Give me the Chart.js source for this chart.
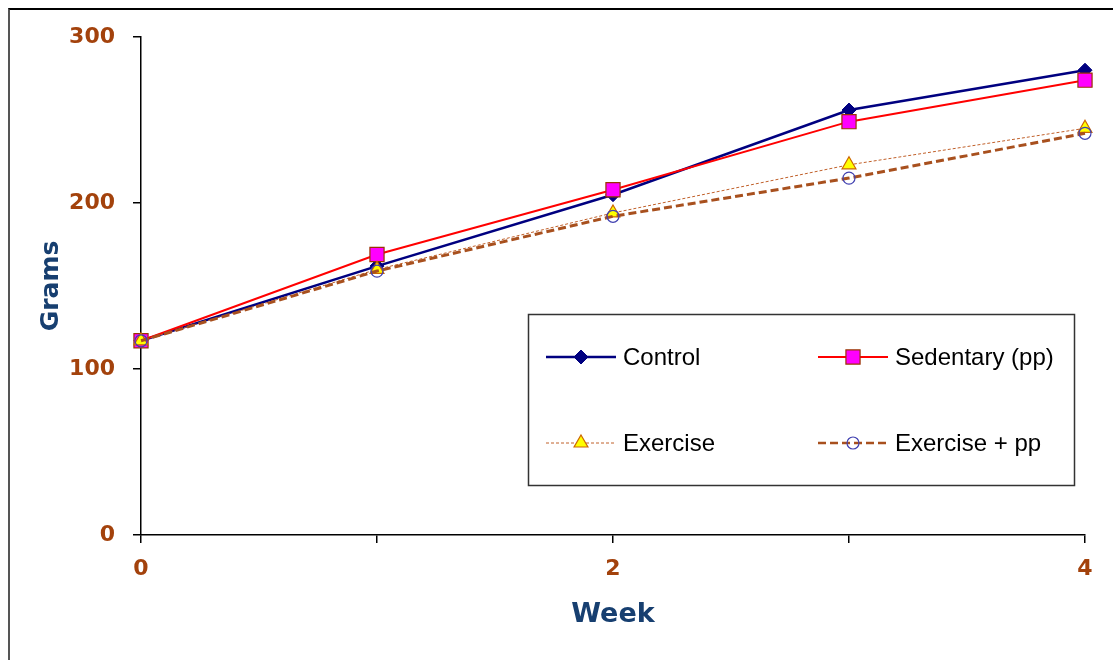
<!DOCTYPE html>
<html lang="en">
    <head>
        <meta charset="utf-8" />
        <script src="https://cdn.jsdelivr.net/npm/chart.js@4.4.1/dist/chart.umd.min.js"></script>
        <title>Grams by week</title>
        <style>
            body { margin: 0; background: #fff; }
            #marco { position: absolute; left: 8px; top: 8px; width: 1105px; height: 652px;
                     border-left: 2px solid #555; border-top: 2px solid #000; box-sizing: border-box; }
            #grafico { position: absolute; left: 0; top: 0; }
        </style>
    </head>
    <body>
        <div id="marco"></div>
        <canvas id="grafico" width="1113" height="660"></canvas>
        <script>
            // datos
            const semanas = [0, 1, 2, 3, 4];
            const control = [117, 162, 205, 256, 280];
            const sedentario = [117, 169, 208, 249, 274];
            const ejercicio = [117, 160, 194, 223, 245];
            const ejercicioPp = [117, 159, 192, 215, 242];
            const nombres = ["Control", "Sedentary (pp)", "Exercise", "Exercise + pp"];
            const ticksY = [0, 100, 200, 300];

            const marron = "#A3420C";
            const azulTitulo = "#173F70";

            const puntos = arr => arr.map((v, i) => ({ x: semanas[i], y: v }));

            // como en Excel, la ultima serie queda encima
            const series = [
                { label: nombres[0], data: puntos(control), borderColor: "#000080", borderWidth: 2.5, clip: false,
                  pointStyle: "rectRot", pointRadius: 7, pointBackgroundColor: "#000080", pointBorderColor: "#000080", pointBorderWidth: 1, order: 3 },
                { label: nombres[1], data: puntos(sedentario), borderColor: "#FF0000", borderWidth: 2, clip: false,
                  pointStyle: "rect", pointRadius: 10, pointBackgroundColor: "#FF00FF", pointBorderColor: "#993300", pointBorderWidth: 1.2, order: 2 },
                { label: nombres[2], data: puntos(ejercicio), borderColor: "#C0602A", borderWidth: 1, borderDash: [3, 2], clip: false,
                  pointStyle: "triangle", pointRadius: 8, pointBackgroundColor: "#FFFF00", pointBorderColor: "#CC6600", pointBorderWidth: 1.2, order: 1 },
                { label: nombres[3], data: puntos(ejercicioPp), borderColor: "#A8501E", borderWidth: 3, borderDash: [8, 4], clip: false,
                  pointStyle: "circle", pointRadius: 6, pointBackgroundColor: "rgba(255,255,255,0)", pointBorderColor: "#4040B0", pointBorderWidth: 1.2, order: 0 }
            ];

            // leyenda dibujada dentro del area, como en el original
            const leyenda = {
                id: "leyendaCaja",
                afterDraw(chart) {
                    const ctx = chart.ctx;
                    ctx.save();
                    ctx.strokeStyle = "#333";
                    ctx.lineWidth = 1.5;
                    ctx.strokeRect(528.5, 314.5, 546, 171);
                    const pos = [[546, 357], [818, 357], [546, 443], [818, 443]];
                    series.forEach((s, i) => {
                        const [x, y] = pos[i];
                        ctx.save();
                        ctx.strokeStyle = s.borderColor;
                        ctx.lineWidth = Math.min(s.borderWidth, 2.5);
                        ctx.setLineDash(s.borderDash || []);
                        ctx.beginPath();
                        ctx.moveTo(x, y);
                        ctx.lineTo(x + 70, y);
                        ctx.stroke();
                        ctx.restore();
                        ctx.fillStyle = s.pointBackgroundColor;
                        ctx.strokeStyle = s.pointBorderColor;
                        ctx.lineWidth = s.pointBorderWidth;
                        Chart.helpers.drawPoint(ctx, { pointStyle: s.pointStyle, radius: s.pointRadius, rotation: 0, borderWidth: s.pointBorderWidth }, x + 35, y);
                        ctx.fillStyle = "#000";
                        ctx.font = "24px 'Liberation Sans', Arial, sans-serif";
                        ctx.textBaseline = "middle";
                        ctx.fillText(s.label, x + 77, y + 1);
                    });
                    ctx.restore();
                }
            };

            new Chart(document.getElementById("grafico").getContext("2d"), {
                type: "line",
                data: { datasets: series },
                options: {
                    responsive: false,
                    animation: false,
                    layout: { padding: { left: 30, right: 28, top: 37, bottom: 25 } },
                    plugins: { legend: { display: false }, tooltip: { enabled: false } },
                    scales: {
                        x: {
                            type: "linear", min: 0, max: 4,
                            afterFit: s => { s.height = 100; },
                            border: { color: "#000", width: 1.5 },
                            grid: { drawOnChartArea: false, color: "#000", lineWidth: 1.5, tickLength: 8 },
                            ticks: { stepSize: 1, padding: 13, color: marron,
                                     font: { family: "'DejaVu Sans'", size: 22, weight: "bold" },
                                     callback: v => (v % 2 === 0 ? v : "") },
                            title: { display: true, text: "Week", color: azulTitulo,
                                     font: { family: "'DejaVu Sans'", size: 27, weight: "bold" } }
                        },
                        y: {
                            min: 0, max: 300,
                            afterFit: s => { s.width = 111; },
                            afterBuildTicks: s => { s.ticks = ticksY.map(v => ({ value: v })); },
                            border: { color: "#000", width: 1.5 },
                            grid: { drawOnChartArea: false, color: "#000", lineWidth: 1.5, tickLength: 8 },
                            ticks: { padding: 18, color: marron,
                                     font: { family: "'DejaVu Sans'", size: 22, weight: "bold" } },
                            title: { display: true, text: "Grams", color: azulTitulo, padding: { top: 6, bottom: 4 },
                                     font: { family: "'DejaVu Sans'", size: 25, weight: "bold" } }
                        }
                    }
                },
                plugins: [leyenda]
            });
        </script>
    </body>
</html>
